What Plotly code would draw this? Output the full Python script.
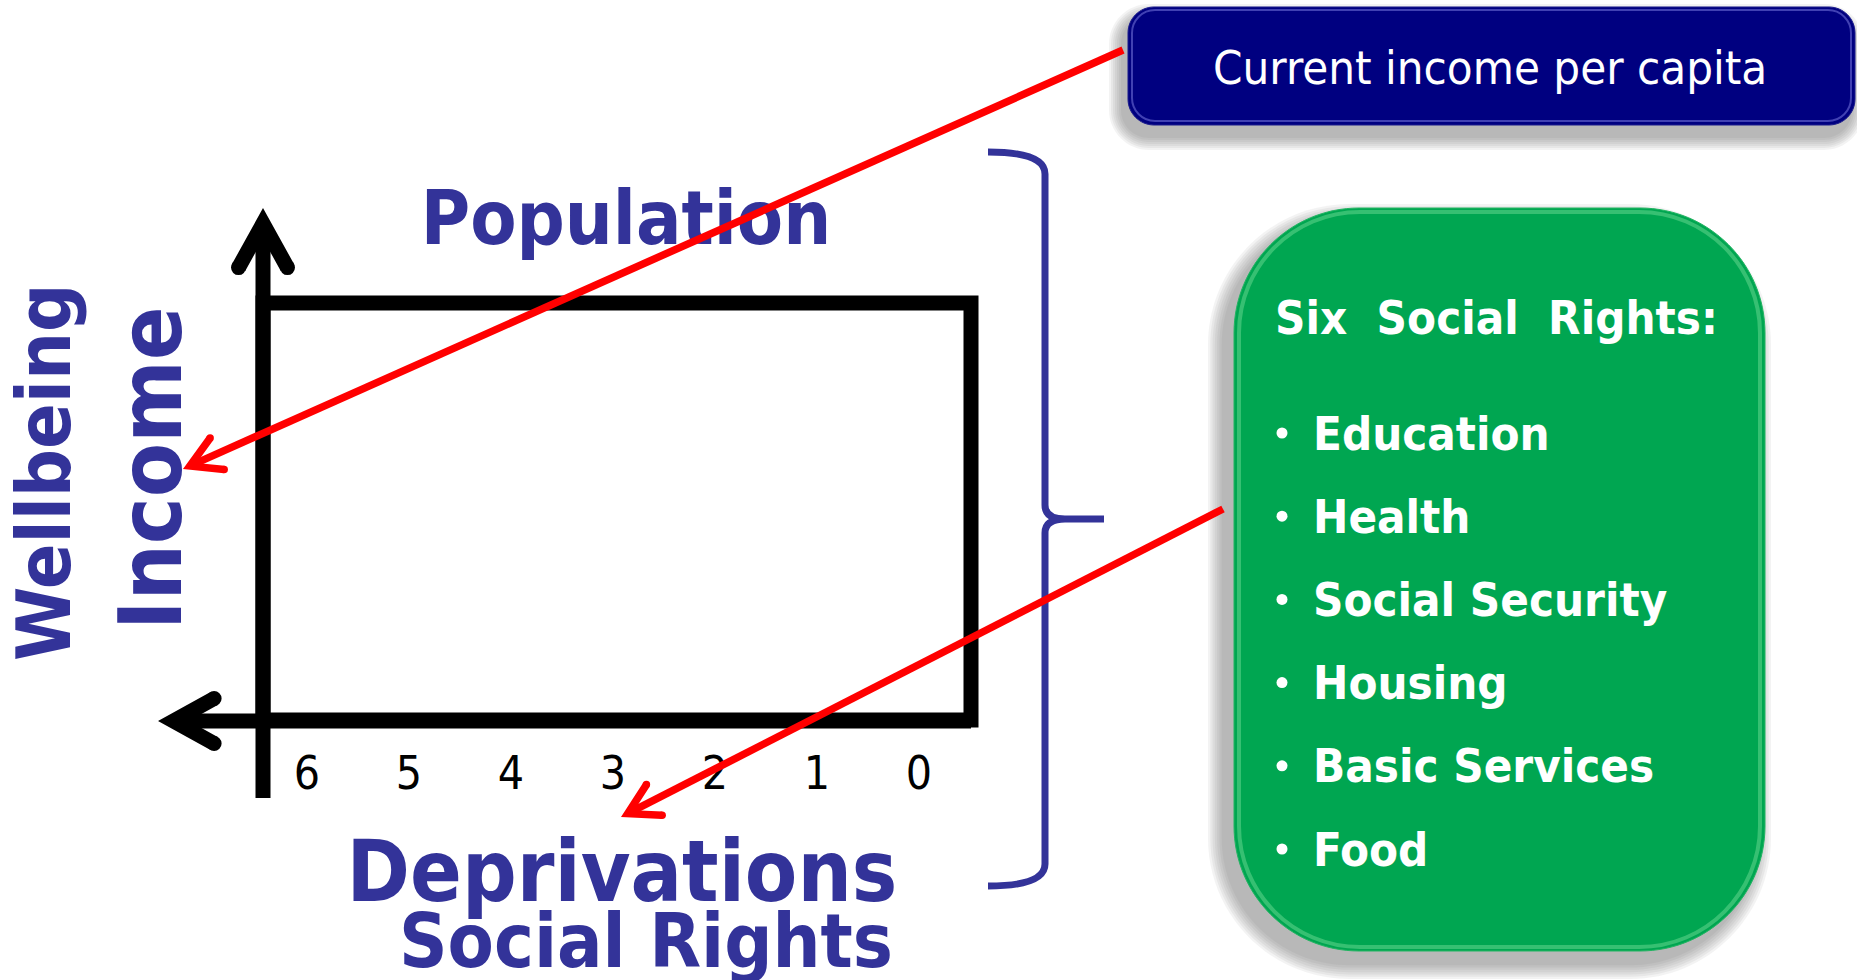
"""Wellbeing diagram: income vs. social-rights deprivations."""

import numpy as np
import plotly.graph_objects as go

W, H = 1857, 980

# ---- content ----
box_title = "Current income per capita"
top_label = "Population"
left_labels = ["Wellbeing", "Income"]
bottom_labels = ["Deprivations", "Social Rights"]
deprivation_ticks = [6, 5, 4, 3, 2, 1, 0]
rights_header = "Six\u00a0\u00a0Social\u00a0\u00a0Rights:"
social_rights = ["Education", "Health", "Social Security", "Housing", "Basic Services", "Food"]

BLUE_TEXT = "#333399"
NAVY = "#000080"
GREEN = "#00a651"
RED = "#ff0000"
FONT = "DejaVu Sans Condensed, DejaVu Sans"


def dep_x(k):
    # deprivation count -> pixel x along the base of the rectangle (0 at right)
    return 919 - (919 - 307) * k / 6


def rounded_rect(x0, y0, x1, y1, r):
    k = 0.4477 * r
    return (f"M {x0+r},{y0} L {x1-r},{y0} C {x1-k},{y0} {x1},{y0+k} {x1},{y0+r} "
            f"L {x1},{y1-r} C {x1},{y1-k} {x1-k},{y1} {x1-r},{y1} "
            f"L {x0+r},{y1} C {x0+k},{y1} {x0},{y1-k} {x0},{y1-r} "
            f"L {x0},{y0+r} C {x0},{y0+k} {x0+k},{y0} {x0+r},{y0} Z")


def add_shadow(fig, x0, y0, x1, y1, r, dx, dy, spread=14, steps=7):
    for i in range(steps):
        g = spread * (1 - i / steps)
        fig.add_shape(type="path",
                      path=rounded_rect(x0 + dx - g, y0 + dy - g, x1 + dx + g, y1 + dy + g, r + g),
                      fillcolor="rgba(80,80,80,0.07)", line_width=0, layer="below")


def add_arrow(fig, start, tip, color, t, head_len, head_deg, layer="above", shaft=True):
    """Open chevron arrow with a sharp tip and rounded wing ends."""
    tip = np.array(tip, float)
    u = np.array(start, float) - tip
    u /= np.hypot(*u)
    th = np.radians(head_deg)
    pts = []
    for s in (1, -1):
        c, sn = np.cos(s * th), np.sin(s * th)
        w = np.array([u[0] * c - u[1] * sn, u[0] * sn + u[1] * c])
        # inward normal (towards the shaft axis)
        n = np.array([-w[1], w[0]]) * (-s)
        p_out = tip + head_len * w
        p_in = p_out + t * n
        pts.append((p_out, p_in))
        cx, cy = (p_out + p_in) / 2
        fig.add_shape(type="circle", x0=cx - t / 2, y0=cy - t / 2, x1=cx + t / 2, y1=cy + t / 2,
                      fillcolor=color, line_width=0, layer=layer)
    notch = tip + (t / np.sin(th)) * u
    (a1, b1), (a2, b2) = pts
    poly = [tip, a1, b1, notch, b2, a2]
    path = "M " + " L ".join(f"{x:.1f},{y:.1f}" for x, y in poly) + " Z"
    fig.add_shape(type="path", path=path, fillcolor=color, line_width=0, layer=layer)
    if shaft:
        e = tip + (t / (2 * np.tan(th)) + 3) * u
        fig.add_shape(type="line", x0=start[0], y0=start[1], x1=e[0], y1=e[1],
                      line=dict(color=color, width=t), layer=layer)


fig = go.Figure()

# ---- boxes ----
add_shadow(fig, 1128, 7, 1855, 125, 26, dx=-5, dy=11)
fig.add_shape(type="path", path=rounded_rect(1128, 7, 1855, 125, 26),
              fillcolor=NAVY, line=dict(color="#1a1a8c", width=1), layer="below")
fig.add_shape(type="path", path=rounded_rect(1132, 10, 1851, 121, 23),
              line=dict(color="rgba(130,130,230,0.5)", width=2), layer="below")

add_shadow(fig, 1234, 208, 1765, 951, 125, dx=-10, dy=12, spread=16)
fig.add_shape(type="path", path=rounded_rect(1234, 208, 1765, 951, 125),
              fillcolor=GREEN, line=dict(color="#22b562", width=1), layer="below")
fig.add_shape(type="path", path=rounded_rect(1239, 212, 1760, 947, 121),
              line=dict(color="rgba(120,225,155,0.45)", width=4), layer="below")

# ---- axes and rectangle ----
AX = dict(color="black", width=15)
fig.add_shape(type="path", path="M 263,303 L 971,303 L 971,720 L 263,720 Z",
              line=AX, layer="below")
add_arrow(fig, (263, 798), (263, 208), "black", 15, 64, 29, layer="below")
add_arrow(fig, (971, 721), (158, 721), "black", 15, 60, 29, layer="below")

# ---- brace ----
fig.add_shape(type="path",
              path=("M 988,152 Q 1045,152 1045,174 L 1045,505 Q 1045,519 1065,519 L 1104,519 "
                    "M 1065,519 Q 1045,519 1045,533 L 1045,864 Q 1045,886 988,886"),
              line=dict(color=BLUE_TEXT, width=7), layer="below")

# ---- text under the red arrows ----
fig.add_trace(go.Scatter(x=[626], y=[225], mode="text", text=[top_label],
                         textfont=dict(family=FONT, size=75, color=BLUE_TEXT, weight="bold"),
                         hoverinfo="skip"))
fig.add_trace(go.Scatter(x=[dep_x(k) for k in deprivation_ticks], y=[777] * len(deprivation_ticks),
                         mode="text", text=[str(k) for k in deprivation_ticks],
                         textfont=dict(family=FONT, size=46, color="black"),
                         hoverinfo="skip"))
fig.add_trace(go.Scatter(x=[622], y=[880], mode="text", text=[bottom_labels[0]],
                         textfont=dict(family=FONT, size=85, color=BLUE_TEXT, weight="bold"),
                         hoverinfo="skip"))
fig.add_trace(go.Scatter(x=[646], y=[948], mode="text", text=[bottom_labels[1]],
                         textfont=dict(family=FONT, size=75, color=BLUE_TEXT, weight="bold"),
                         hoverinfo="skip"))

# bullets in the green box
row_y = [433 + 83.2 * i for i in range(len(social_rights))]
fig.add_trace(go.Scatter(x=[1282] * len(row_y), y=row_y, mode="markers",
                         marker=dict(color="white", size=11), hoverinfo="skip"))

# ---- red arrows ----
add_arrow(fig, (1123, 50), (183, 469), RED, 7.5, 41, 30)
add_arrow(fig, (1223, 509), (621, 817), RED, 7.5, 41, 30)

# ---- annotations ----
fig.add_annotation(x=1490, y=67, text=box_title, showarrow=False,
                   font=dict(family=FONT, size=47, color="white"))
fig.add_annotation(x=44, y=473, text=left_labels[0], textangle=-90, showarrow=False,
                   font=dict(family=FONT, size=75, color=BLUE_TEXT, weight="bold"))
fig.add_annotation(x=150, y=469, text=left_labels[1], textangle=-90, showarrow=False,
                   font=dict(family=FONT, size=88, color=BLUE_TEXT, weight="bold"))
fig.add_annotation(x=1273, y=317, text=rights_header, showarrow=False, xanchor="left",
                   font=dict(family=FONT, size=47, color="white", weight="bold"))
for name, y in zip(social_rights, row_y):
    fig.add_annotation(x=1311, y=y, text=name, showarrow=False, xanchor="left",
                       font=dict(family=FONT, size=47, color="white", weight="bold"))

fig.update_layout(
    width=W, height=H,
    margin=dict(l=0, r=0, t=0, b=0),
    paper_bgcolor="white", plot_bgcolor="white",
    showlegend=False, hovermode=False,
    xaxis=dict(range=[0, W], visible=False, fixedrange=True),
    yaxis=dict(range=[H, 0], visible=False, fixedrange=True),
)

fig.write_html("out.html", config=dict(displayModeBar=False),
               post_script="document.body.style.margin='0';")
